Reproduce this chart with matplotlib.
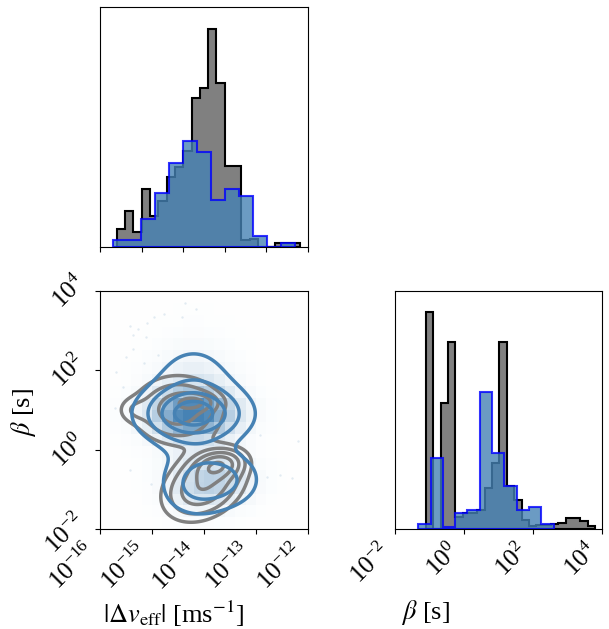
import numpy as np
import matplotlib
matplotlib.use('Agg')
from matplotlib import pyplot as plt
from matplotlib.colors import LinearSegmentedColormap, PowerNorm
from matplotlib.ticker import NullLocator, NullFormatter
from matplotlib.transforms import ScaledTranslation

plt.rcParams['font.family'] = 'serif'
plt.rcParams['font.serif'] = ['Liberation Serif', 'DejaVu Serif']
plt.rcParams['mathtext.fontset'] = 'stix'

# --- marginal of log10 |dv_eff| (top panel), bins given as log10 start + width
dv_black_start, dv_black_width = -16.6, 0.2
dv_black = [17.3, 35.3, 14.3, 57, 31, 45, 69, 79, 95, 148.3, 158.3, 216.7,
            162.7, 80, 80, 6.7, 7.3, 0, 0, 3.3, 3.3, 3.3]
dv_blue_start, dv_blue_width = -16.68, 0.3365
dv_blue = [6.7, 6.7, 28, 53.7, 83, 105, 94, 46.7, 57.7, 50.7, 11, 0, 3.3]

# --- marginal of log10 beta (right panel)
beta_black_start, beta_black_width = -1.093, 0.2126
beta_black = [216.7, 0, 126, 186.7, 12, 16, 16, 19, 41, 66, 186.7, 43.3, 29.3,
              9.3, 3.7, 4, 4.5, 5.5, 6, 11, 11, 8.3, 3]
beta_blue_start, beta_blue_width = -1.316, 0.3557
beta_blue = [5.3, 71.3, 2.7, 16.7, 19, 136.7, 76.7, 43.3, 19.3, 22, 5.3]

# --- 2d density blobs (log10 dv, log10 beta): centre, spread, correlation, weight
grey_u = [-14.15, -14.5, -15.35, -13.72, -14.0]
grey_w = [1.2, 1.0, 1.0, -0.38, -0.9]
grey_su = [0.25, 0.5, 0.2, 0.28, 0.45]
grey_sw = [0.14, 0.5, 0.2, 0.22, 0.5]
grey_rho = [0.0, 0.0, 0.0, 0.2, 0.3]
grey_wt = [0.3, 0.45, 0.12, 0.55, 0.55]
grey_levels = [0.1, 0.2, 0.35, 0.55, 0.8]

blue_u = [-14.2, -14.2, -14.15, -13.6]
blue_w = [0.9, 1.15, -0.9, -0.75]
blue_su = [0.55, 0.5, 0.4, 0.4]
blue_sw = [0.38, 0.85, 0.45, 0.4]
blue_rho = [0.0, 0.0, 0.0, 0.0]
blue_wt = [0.85, 0.3, 0.3, 0.3]
blue_levels = [0.1, 0.3, 0.6, 0.9]

# faint scattered samples outside the contours
pts_u = [-14.37, -14.15, -14.97, -14.77, -14.43, -15.42, -15.10, -15.26, -15.36,
         -15.12, -15.36, -14.88, -15.50, -15.15, -15.69, -15.55, -15.71, -15.42,
         -15.02, -12.92, -12.79, -12.31, -12.19, -12.54]
pts_w = [3.70, 3.53, 3.33, 3.41, 3.33, 3.12, 3.20, 3.03, 2.89, 2.84, 2.53, 2.38,
         2.33, 2.19, 1.96, 1.59, 1.04, -0.51, -0.86, 0.37, -0.68, -0.72, 0.22, -0.63]

BLUE_FACE = (0.275, 0.51, 0.706, 0.8)
BLUE_EDGE = (0.0, 0.0, 1.0, 0.8)


def step_hist(ax, start, width, heights, **kw):
    edges = 10 ** (start + width * np.arange(len(heights) + 1))
    centers = np.sqrt(edges[:-1] * edges[1:])
    ax.hist(centers, bins=edges, weights=heights, histtype='stepfilled', **kw)


def mixture(U, W, us, ws, sus, sws, rhos, wts):
    Z = np.zeros_like(U)
    for u0, w0, su, sw, r, a in zip(us, ws, sus, sws, rhos, wts):
        du, dw = (U - u0) / su, (W - w0) / sw
        q = (du ** 2 - 2 * r * du * dw + dw ** 2) / (1 - r ** 2)
        Z += a * np.exp(-0.5 * q)
    return Z


def clean_log(ax):
    ax.xaxis.set_minor_locator(NullLocator())
    ax.yaxis.set_minor_locator(NullLocator())


fig = plt.figure(figsize=(6.09, 6.29), dpi=100)
ax_top = fig.add_axes([0.1642, 0.6078, 0.3415, 0.3806])
ax_2d = fig.add_axes([0.1642, 0.1585, 0.3415, 0.3793])
ax_right = fig.add_axes([0.6481, 0.1585, 0.3404, 0.3793])

# top marginal
step_hist(ax_top, dv_black_start, dv_black_width, dv_black,
          facecolor='grey', edgecolor='black', lw=1.5)
step_hist(ax_top, dv_blue_start, dv_blue_width, dv_blue,
          facecolor=BLUE_FACE, edgecolor=BLUE_EDGE, lw=1.5)
ax_top.set_xscale('log')
ax_top.set_xlim(1e-17, 1e-12)
ax_top.set_xticks([1e-17, 1e-16, 1e-15, 1e-14, 1e-13, 1e-12])
ax_top.xaxis.set_major_formatter(NullFormatter())
ax_top.set_ylim(0, 1.1 * max(dv_black))
ax_top.set_yticks([])
clean_log(ax_top)

# right marginal
step_hist(ax_right, beta_black_start, beta_black_width, beta_black,
          facecolor='grey', edgecolor='black', lw=1.5)
step_hist(ax_right, beta_blue_start, beta_blue_width, beta_blue,
          facecolor=BLUE_FACE, edgecolor=BLUE_EDGE, lw=1.5)
ax_right.set_xscale('log')
ax_right.set_xlim(1e-2, 1e4)
ax_right.set_xticks([1e-2, 1e0, 1e2, 1e4])
ax_right.set_ylim(0, 1.1 * max(beta_black))
ax_right.set_yticks([])
clean_log(ax_right)

# 2d panel
u = np.linspace(-16, -12, 400)
w = np.linspace(-2, 4, 400)
U, W = np.meshgrid(u, w)
Zg = mixture(U, W, grey_u, grey_w, grey_su, grey_sw, grey_rho, grey_wt)
Zb = mixture(U, W, blue_u, blue_w, blue_su, blue_sw, blue_rho, blue_wt)

# coarse 2d histogram shading of the blue sample
ue = np.linspace(-16, -12, 21)
we = np.linspace(-2, 4, 21)
UC, WC = np.meshgrid(0.5 * (ue[1:] + ue[:-1]), 0.5 * (we[1:] + we[:-1]))
H = mixture(UC, WC, blue_u, blue_w, blue_su, blue_sw, blue_rho, blue_wt)
cmap = LinearSegmentedColormap.from_list('wb', ['white', 'steelblue'])
ax_2d.pcolormesh(10 ** ue, 10 ** we, H + 0.03, cmap=cmap,
                 norm=PowerNorm(1.3, vmin=0, vmax=0.95 * H.max()))

ax_2d.scatter(10 ** np.array(pts_u), 10 ** np.array(pts_w), s=3,
              color='steelblue', alpha=0.15, lw=0)
ax_2d.contour(10 ** U, 10 ** W, Zg, levels=grey_levels,
              colors='grey', linewidths=2.5)
ax_2d.contour(10 ** U, 10 ** W, Zb, levels=blue_levels,
              colors='steelblue', linewidths=2.5)
ax_2d.set_xscale('log')
ax_2d.set_yscale('log')
ax_2d.set_xlim(1e-16, 1e-12)
ax_2d.set_ylim(1e-2, 1e4)
ax_2d.set_xticks([1e-16, 1e-15, 1e-14, 1e-13, 1e-12])
ax_2d.set_yticks([1e-2, 1e0, 1e2, 1e4])
clean_log(ax_2d)

for ax in (ax_2d, ax_right):
    for lab in ax.get_xticklabels():
        lab.set_rotation(45)
        lab.set_ha('right')
    ax.tick_params(labelsize=18)
lift = ScaledTranslation(0, 10 / 100, fig.dpi_scale_trans)
for tick in ax_2d.yaxis.get_major_ticks():
    tick.label1.set_rotation(45)
    tick.label1.set_transform(tick.label1.get_transform() + lift)

ax_2d.set_xlabel(r'$|\Delta v_{\rm eff}|$ [ms$^{-1}$]', fontsize=19, va='top')
ax_2d.xaxis.set_label_coords(0.356, -0.29)
ax_2d.set_ylabel(r'$\beta$ [s]', fontsize=19)
ax_2d.yaxis.set_label_coords(-0.30, 0.49)
ax_right.set_xlabel(r'$\beta$ [s]', fontsize=19, va='top')
ax_right.xaxis.set_label_coords(0.15, -0.29)

fig.savefig('out.png', dpi=100)
